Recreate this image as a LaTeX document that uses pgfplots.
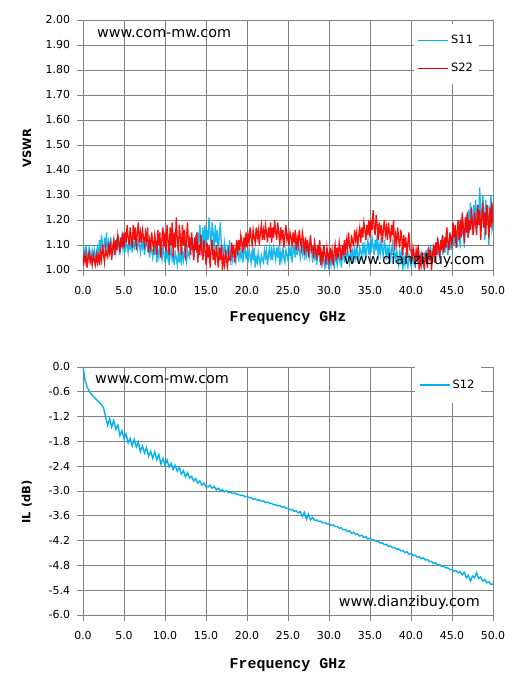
\documentclass[border=0pt]{standalone}
\usepackage{fontspec}
\setmainfont{DejaVu Sans}
\newfontfamily\monob{Liberation Mono}
\usepackage{pgfplots}
\pgfplotsset{compat=1.18}
\usepackage{pgfplotstable}

\definecolor{cy}{RGB}{0,176,240}
\definecolor{gr}{RGB}{128,128,128}

% S11, 0.125 GHz step from 0 to 50 GHz
\pgfplotstableread[row sep=\\]{
y\\
1.03\\ 1.08\\ 1.05\\ 1.10\\ 1.06\\ 1.04\\ 1.09\\ 1.07\\
1.04\\ 1.08\\ 1.05\\ 1.08\\ 1.03\\ 1.07\\ 1.09\\ 1.05\\
1.12\\ 1.07\\ 1.14\\ 1.10\\ 1.06\\ 1.13\\ 1.09\\ 1.15\\
1.06\\ 1.11\\ 1.08\\ 1.13\\ 1.09\\ 1.07\\ 1.12\\ 1.10\\
1.07\\ 1.13\\ 1.09\\ 1.12\\ 1.06\\ 1.11\\ 1.14\\ 1.08\\
1.11\\ 1.07\\ 1.12\\ 1.10\\ 1.07\\ 1.12\\ 1.08\\ 1.13\\
1.07\\ 1.11\\ 1.09\\ 1.13\\ 1.10\\ 1.08\\ 1.12\\ 1.10\\
1.07\\ 1.12\\ 1.09\\ 1.12\\ 1.06\\ 1.10\\ 1.13\\ 1.08\\
1.09\\ 1.05\\ 1.10\\ 1.08\\ 1.05\\ 1.10\\ 1.06\\ 1.11\\
1.03\\ 1.08\\ 1.05\\ 1.10\\ 1.06\\ 1.04\\ 1.09\\ 1.07\\
1.03\\ 1.08\\ 1.05\\ 1.08\\ 1.02\\ 1.06\\ 1.09\\ 1.04\\
1.06\\ 1.02\\ 1.07\\ 1.05\\ 1.02\\ 1.07\\ 1.03\\ 1.08\\
1.02\\ 1.07\\ 1.04\\ 1.09\\ 1.05\\ 1.03\\ 1.08\\ 1.06\\
1.05\\ 1.13\\ 1.08\\ 1.12\\ 1.04\\ 1.10\\ 1.14\\ 1.07\\
1.15\\ 1.09\\ 1.18\\ 1.13\\ 1.08\\ 1.17\\ 1.11\\ 1.18\\
1.09\\ 1.16\\ 1.12\\ 1.21\\ 1.14\\ 1.10\\ 1.19\\ 1.15\\
1.07\\ 1.18\\ 1.11\\ 1.16\\ 1.06\\ 1.14\\ 1.19\\ 1.10\\
1.09\\ 1.05\\ 1.11\\ 1.08\\ 1.04\\ 1.10\\ 1.06\\ 1.12\\
1.02\\ 1.07\\ 1.04\\ 1.09\\ 1.05\\ 1.03\\ 1.08\\ 1.06\\
1.04\\ 1.08\\ 1.05\\ 1.08\\ 1.03\\ 1.07\\ 1.09\\ 1.05\\
1.07\\ 1.03\\ 1.08\\ 1.06\\ 1.03\\ 1.08\\ 1.04\\ 1.09\\
1.01\\ 1.05\\ 1.03\\ 1.07\\ 1.04\\ 1.02\\ 1.06\\ 1.04\\
1.03\\ 1.08\\ 1.05\\ 1.08\\ 1.02\\ 1.06\\ 1.09\\ 1.04\\
1.08\\ 1.04\\ 1.09\\ 1.07\\ 1.04\\ 1.09\\ 1.05\\ 1.10\\
1.02\\ 1.07\\ 1.04\\ 1.09\\ 1.05\\ 1.03\\ 1.08\\ 1.06\\
1.04\\ 1.09\\ 1.06\\ 1.09\\ 1.03\\ 1.07\\ 1.10\\ 1.05\\
1.10\\ 1.06\\ 1.11\\ 1.08\\ 1.05\\ 1.10\\ 1.07\\ 1.12\\
1.04\\ 1.09\\ 1.06\\ 1.11\\ 1.07\\ 1.05\\ 1.10\\ 1.08\\
1.03\\ 1.08\\ 1.05\\ 1.08\\ 1.02\\ 1.06\\ 1.09\\ 1.04\\
1.05\\ 1.01\\ 1.06\\ 1.04\\ 1.01\\ 1.06\\ 1.02\\ 1.07\\
1.00\\ 1.05\\ 1.02\\ 1.07\\ 1.03\\ 1.01\\ 1.06\\ 1.04\\
1.02\\ 1.07\\ 1.04\\ 1.07\\ 1.01\\ 1.05\\ 1.08\\ 1.03\\
1.07\\ 1.03\\ 1.08\\ 1.06\\ 1.03\\ 1.08\\ 1.04\\ 1.09\\
1.03\\ 1.08\\ 1.05\\ 1.10\\ 1.06\\ 1.04\\ 1.09\\ 1.07\\
1.05\\ 1.11\\ 1.07\\ 1.10\\ 1.04\\ 1.09\\ 1.12\\ 1.06\\
1.11\\ 1.07\\ 1.13\\ 1.10\\ 1.06\\ 1.12\\ 1.08\\ 1.14\\
1.04\\ 1.10\\ 1.07\\ 1.13\\ 1.08\\ 1.05\\ 1.12\\ 1.09\\
1.04\\ 1.10\\ 1.06\\ 1.09\\ 1.03\\ 1.08\\ 1.11\\ 1.05\\
1.07\\ 1.03\\ 1.08\\ 1.05\\ 1.02\\ 1.07\\ 1.04\\ 1.09\\
1.00\\ 1.05\\ 1.02\\ 1.07\\ 1.03\\ 1.01\\ 1.06\\ 1.04\\
1.02\\ 1.06\\ 1.03\\ 1.06\\ 1.01\\ 1.05\\ 1.07\\ 1.03\\
1.06\\ 1.02\\ 1.07\\ 1.05\\ 1.02\\ 1.07\\ 1.03\\ 1.08\\
1.03\\ 1.08\\ 1.05\\ 1.10\\ 1.06\\ 1.04\\ 1.09\\ 1.07\\
1.05\\ 1.11\\ 1.07\\ 1.10\\ 1.04\\ 1.09\\ 1.12\\ 1.06\\
1.11\\ 1.07\\ 1.13\\ 1.10\\ 1.06\\ 1.12\\ 1.08\\ 1.14\\
1.08\\ 1.14\\ 1.10\\ 1.17\\ 1.12\\ 1.09\\ 1.16\\ 1.12\\
1.10\\ 1.21\\ 1.14\\ 1.19\\ 1.09\\ 1.17\\ 1.22\\ 1.13\\
1.24\\ 1.15\\ 1.27\\ 1.21\\ 1.14\\ 1.26\\ 1.18\\ 1.28\\
1.15\\ 1.26\\ 1.20\\ 1.33\\ 1.23\\ 1.17\\ 1.30\\ 1.24\\
1.12\\ 1.28\\ 1.18\\ 1.26\\ 1.10\\ 1.22\\ 1.30\\ 1.16\\
1.18\\
}\sone

% S22, 0.125 GHz step from 0 to 50 GHz
\pgfplotstableread[row sep=\\]{
y\\
1.02\\ 1.06\\ 1.03\\ 1.06\\ 1.01\\ 1.05\\ 1.07\\ 1.03\\
1.05\\ 1.02\\ 1.06\\ 1.04\\ 1.02\\ 1.06\\ 1.03\\ 1.07\\
1.02\\ 1.07\\ 1.04\\ 1.10\\ 1.06\\ 1.03\\ 1.09\\ 1.06\\
1.05\\ 1.11\\ 1.07\\ 1.10\\ 1.04\\ 1.09\\ 1.12\\ 1.06\\
1.12\\ 1.08\\ 1.14\\ 1.11\\ 1.07\\ 1.13\\ 1.09\\ 1.15\\
1.09\\ 1.15\\ 1.11\\ 1.18\\ 1.13\\ 1.10\\ 1.17\\ 1.13\\
1.09\\ 1.18\\ 1.12\\ 1.17\\ 1.08\\ 1.15\\ 1.19\\ 1.11\\
1.15\\ 1.11\\ 1.16\\ 1.13\\ 1.10\\ 1.15\\ 1.12\\ 1.17\\
1.07\\ 1.12\\ 1.09\\ 1.15\\ 1.11\\ 1.08\\ 1.14\\ 1.11\\
1.06\\ 1.16\\ 1.10\\ 1.15\\ 1.05\\ 1.12\\ 1.17\\ 1.09\\
1.15\\ 1.07\\ 1.18\\ 1.12\\ 1.06\\ 1.17\\ 1.10\\ 1.19\\
1.05\\ 1.15\\ 1.09\\ 1.21\\ 1.12\\ 1.07\\ 1.18\\ 1.13\\
1.06\\ 1.18\\ 1.10\\ 1.16\\ 1.04\\ 1.13\\ 1.19\\ 1.09\\
1.12\\ 1.06\\ 1.15\\ 1.10\\ 1.04\\ 1.13\\ 1.08\\ 1.15\\
1.03\\ 1.10\\ 1.06\\ 1.14\\ 1.07\\ 1.04\\ 1.12\\ 1.08\\
1.02\\ 1.11\\ 1.05\\ 1.10\\ 1.01\\ 1.08\\ 1.12\\ 1.04\\
1.08\\ 1.02\\ 1.10\\ 1.06\\ 1.01\\ 1.09\\ 1.04\\ 1.10\\
1.00\\ 1.05\\ 1.02\\ 1.08\\ 1.04\\ 1.01\\ 1.07\\ 1.04\\
1.04\\ 1.11\\ 1.07\\ 1.10\\ 1.03\\ 1.08\\ 1.12\\ 1.06\\
1.12\\ 1.08\\ 1.14\\ 1.11\\ 1.07\\ 1.13\\ 1.09\\ 1.15\\
1.09\\ 1.14\\ 1.11\\ 1.17\\ 1.13\\ 1.10\\ 1.16\\ 1.13\\
1.11\\ 1.17\\ 1.13\\ 1.16\\ 1.10\\ 1.15\\ 1.18\\ 1.12\\
1.16\\ 1.12\\ 1.18\\ 1.15\\ 1.11\\ 1.17\\ 1.13\\ 1.19\\
1.11\\ 1.17\\ 1.13\\ 1.20\\ 1.15\\ 1.12\\ 1.19\\ 1.15\\
1.10\\ 1.17\\ 1.13\\ 1.16\\ 1.09\\ 1.14\\ 1.18\\ 1.12\\
1.14\\ 1.10\\ 1.15\\ 1.13\\ 1.10\\ 1.15\\ 1.11\\ 1.16\\
1.08\\ 1.13\\ 1.10\\ 1.16\\ 1.12\\ 1.09\\ 1.15\\ 1.12\\
1.06\\ 1.13\\ 1.09\\ 1.12\\ 1.05\\ 1.10\\ 1.14\\ 1.08\\
1.09\\ 1.05\\ 1.11\\ 1.08\\ 1.04\\ 1.10\\ 1.06\\ 1.12\\
1.02\\ 1.07\\ 1.04\\ 1.10\\ 1.06\\ 1.03\\ 1.09\\ 1.06\\
1.03\\ 1.09\\ 1.05\\ 1.08\\ 1.02\\ 1.07\\ 1.10\\ 1.04\\
1.09\\ 1.05\\ 1.11\\ 1.08\\ 1.04\\ 1.10\\ 1.06\\ 1.12\\
1.06\\ 1.12\\ 1.09\\ 1.15\\ 1.10\\ 1.07\\ 1.14\\ 1.11\\
1.10\\ 1.16\\ 1.12\\ 1.15\\ 1.09\\ 1.14\\ 1.17\\ 1.11\\
1.17\\ 1.13\\ 1.19\\ 1.16\\ 1.12\\ 1.18\\ 1.14\\ 1.20\\
1.13\\ 1.20\\ 1.16\\ 1.24\\ 1.17\\ 1.14\\ 1.22\\ 1.18\\
1.12\\ 1.19\\ 1.15\\ 1.18\\ 1.11\\ 1.16\\ 1.20\\ 1.14\\
1.17\\ 1.12\\ 1.19\\ 1.15\\ 1.11\\ 1.18\\ 1.14\\ 1.20\\
1.08\\ 1.14\\ 1.11\\ 1.17\\ 1.12\\ 1.09\\ 1.16\\ 1.13\\
1.06\\ 1.14\\ 1.09\\ 1.13\\ 1.05\\ 1.11\\ 1.15\\ 1.08\\
1.08\\ 1.04\\ 1.09\\ 1.06\\ 1.03\\ 1.08\\ 1.05\\ 1.10\\
1.00\\ 1.05\\ 1.02\\ 1.07\\ 1.03\\ 1.01\\ 1.06\\ 1.04\\
1.01\\ 1.09\\ 1.04\\ 1.08\\ 1.00\\ 1.06\\ 1.10\\ 1.03\\
1.11\\ 1.06\\ 1.13\\ 1.09\\ 1.05\\ 1.12\\ 1.08\\ 1.14\\
1.07\\ 1.13\\ 1.09\\ 1.17\\ 1.11\\ 1.08\\ 1.15\\ 1.12\\
1.10\\ 1.19\\ 1.13\\ 1.18\\ 1.09\\ 1.16\\ 1.20\\ 1.12\\
1.20\\ 1.13\\ 1.23\\ 1.17\\ 1.11\\ 1.21\\ 1.15\\ 1.23\\
1.13\\ 1.20\\ 1.16\\ 1.25\\ 1.18\\ 1.14\\ 1.23\\ 1.19\\
1.14\\ 1.26\\ 1.18\\ 1.24\\ 1.12\\ 1.21\\ 1.27\\ 1.17\\
1.23\\ 1.14\\ 1.26\\ 1.20\\ 1.13\\ 1.25\\ 1.17\\ 1.27\\
1.18\\
}\stwo

% S12 (dB), 0.25 GHz step from 0 to 50 GHz
\pgfplotstableread[row sep=\\]{
y\\
0.00\\ -0.32\\ -0.48\\ -0.58\\
-0.65\\ -0.71\\ -0.76\\ -0.81\\
-0.86\\ -0.91\\ -0.98\\ -1.20\\
-1.41\\ -1.25\\ -1.45\\ -1.30\\
-1.51\\ -1.41\\ -1.66\\ -1.54\\
-1.73\\ -1.62\\ -1.84\\ -1.73\\
-1.91\\ -1.75\\ -1.94\\ -1.82\\
-2.05\\ -1.91\\ -2.08\\ -1.95\\
-2.16\\ -2.04\\ -2.21\\ -2.05\\
-2.24\\ -2.12\\ -2.35\\ -2.21\\
-2.38\\ -2.25\\ -2.42\\ -2.33\\
-2.48\\ -2.38\\ -2.52\\ -2.43\\
-2.59\\ -2.51\\ -2.66\\ -2.56\\
-2.69\\ -2.64\\ -2.76\\ -2.70\\
-2.81\\ -2.76\\ -2.86\\ -2.81\\
-2.89\\ -2.90\\ -2.86\\ -2.93\\
-2.89\\ -2.97\\ -2.93\\ -3.00\\
-2.97\\ -3.02\\ -2.99\\ -3.04\\
-3.03\\ -3.06\\ -3.05\\ -3.08\\
-3.08\\ -3.11\\ -3.10\\ -3.14\\
-3.13\\ -3.16\\ -3.16\\ -3.20\\
-3.19\\ -3.22\\ -3.21\\ -3.25\\
-3.24\\ -3.28\\ -3.27\\ -3.30\\
-3.30\\ -3.33\\ -3.33\\ -3.36\\
-3.35\\ -3.39\\ -3.38\\ -3.42\\
-3.42\\ -3.45\\ -3.45\\ -3.49\\
-3.48\\ -3.53\\ -3.50\\ -3.62\\
-3.52\\ -3.68\\ -3.56\\ -3.70\\
-3.64\\ -3.71\\ -3.70\\ -3.74\\
-3.73\\ -3.77\\ -3.76\\ -3.80\\
-3.79\\ -3.83\\ -3.82\\ -3.86\\
-3.86\\ -3.90\\ -3.89\\ -3.94\\
-3.93\\ -3.98\\ -3.96\\ -4.02\\
-4.00\\ -4.05\\ -4.04\\ -4.09\\
-4.07\\ -4.12\\ -4.11\\ -4.16\\
-4.14\\ -4.19\\ -4.18\\ -4.22\\
-4.22\\ -4.26\\ -4.25\\ -4.30\\
-4.29\\ -4.34\\ -4.33\\ -4.37\\
-4.37\\ -4.41\\ -4.40\\ -4.45\\
-4.44\\ -4.49\\ -4.47\\ -4.53\\
-4.51\\ -4.56\\ -4.55\\ -4.60\\
-4.59\\ -4.64\\ -4.62\\ -4.67\\
-4.66\\ -4.71\\ -4.70\\ -4.75\\
-4.74\\ -4.79\\ -4.78\\ -4.83\\
-4.82\\ -4.86\\ -4.86\\ -4.90\\
-4.90\\ -4.94\\ -4.93\\ -4.98\\
-4.95\\ -5.03\\ -4.97\\ -5.10\\
-5.04\\ -5.18\\ -5.06\\ -5.10\\
-4.98\\ -5.12\\ -5.08\\ -5.18\\
-5.14\\ -5.22\\ -5.20\\ -5.26\\
-5.25\\
}\sil

\pgfplotsset{
  mystyle/.style={
    scale only axis, width=410bp, xmin=0, xmax=50,
    xtick={0,5,10,15,20,25,30,35,40,45,50},
    xticklabels={0.0,5.0,10.0,15.0,20.0,25.0,30.0,35.0,40.0,45.0,50.0},
    grid=major, grid style={gr, line width=0.9bp},
    axis line style={gr, line width=0.9bp},
    tick style={gr, line width=0.9bp},
    tick align=outside, major tick length=5.5bp,
    xtick pos=bottom, ytick pos=left,
    ticklabel style={font=\fontsize{11}{13}\selectfont, text=black},
    xticklabel style={yshift=-7bp},
    yticklabel style={xshift=-4bp},
    xlabel={Frequency GHz},
    xlabel style={font=\monob\bfseries\fontsize{15}{17}\selectfont, anchor=center},
    ylabel style={font=\bfseries\fontsize{11.5}{13}\selectfont, anchor=center},
    legend cell align=left,
    legend image code/.code={\draw[#1] (0bp,0bp) -- (30bp,0bp);},
    legend style={draw=none, fill=white, font=\fontsize{11.5}{13}\selectfont,
      inner xsep=4bp, inner ysep=9bp, row sep=14bp,
      /tikz/every even column/.append style={column sep=0bp}},
  }
}

\begin{document}
\begin{tikzpicture}
\useasboundingbox (-83bp,20bp) rectangle (441bp,-678bp);

\begin{axis}[mystyle,
  at={(0,0)}, anchor=north west, height=250bp,
  ymin=1, ymax=2,
  ytick={1.0,1.1,1.2,1.3,1.4,1.5,1.6,1.7,1.8,1.9,2.0},
  yticklabels={1.00,1.10,1.20,1.30,1.40,1.50,1.60,1.70,1.80,1.90,2.00},
  xlabel style={at={(axis description cs:0.5,-0.192)}},
  ylabel={VSWR},
  ylabel style={at={(axis description cs:-0.137,0.488)}},
  legend style={at={(rel axis cs:0.966,0.983)}, anchor=north east},
]
\addlegendimage{cy, line width=1.3bp}
\addlegendentry{S11}
\addlegendimage{red, line width=1.3bp}
\addlegendentry{S22}
\addplot[cy, line width=1.3bp, opacity=0.9, forget plot] table[x expr=\coordindex*0.125, y index=0] {\sone};
\addplot[red, line width=1.3bp, opacity=0.95, forget plot] table[x expr=\coordindex*0.125, y index=0] {\stwo};
\node[anchor=west, font=\fontsize{14.4}{16}\selectfont, inner sep=0pt] at (rel axis cs:0.034,0.945) {www.com-mw.com};
\node[anchor=east, font=\fontsize{14.4}{16}\selectfont, inner sep=0pt] at (rel axis cs:0.98,0.038) {www.dianzibuy.com};
\end{axis}

\begin{axis}[mystyle,
  at={(0,-347bp)}, anchor=north west, height=248bp,
  ymin=-6, ymax=0,
  ytick={-6.0,-5.4,-4.8,-4.2,-3.6,-3.0,-2.4,-1.8,-1.2,-0.6,0.0},
  yticklabels={-6.0,-5.4,-4.8,-4.2,-3.6,-3.0,-2.4,-1.8,-1.2,-0.6,0.0},
  xlabel style={at={(axis description cs:0.5,-0.2016)}},
  ylabel={IL (dB)},
  ylabel style={at={(axis description cs:-0.137,0.456)}},
  legend style={at={(rel axis cs:0.97,1.0)}, anchor=north east, inner ysep=11bp},
]
\addlegendimage{cy, line width=1.5bp}
\addlegendentry{S12}
\addplot[cy, line width=1.4bp, forget plot] table[x expr=\coordindex*0.25, y index=0] {\sil};
\node[anchor=west, font=\fontsize{14.4}{16}\selectfont, inner sep=0pt] at (rel axis cs:0.029,0.951) {www.com-mw.com};
\node[anchor=east, font=\fontsize{14.4}{16}\selectfont, inner sep=0pt] at (rel axis cs:0.968,0.05) {www.dianzibuy.com};
\end{axis}
\end{tikzpicture}
\end{document}
